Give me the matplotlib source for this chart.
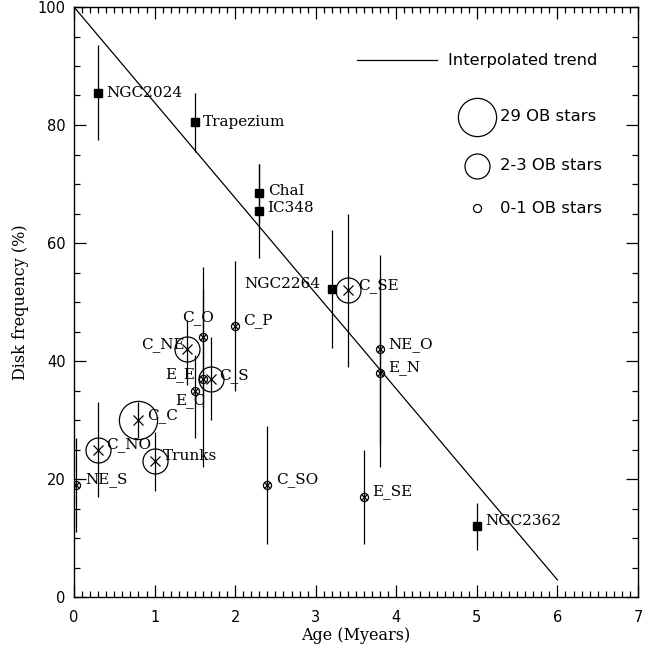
import matplotlib
matplotlib.use("Agg")
import matplotlib.pyplot as plt
from matplotlib.ticker import MultipleLocator

# ---------------- data ----------------
# clusters (filled squares)
cl_names = ['NGC2024', 'Trapezium', 'ChaI', 'IC348', 'NGC2264', 'NGC2362']
cl_age = [0.3, 1.5, 2.3, 2.3, 3.2, 5.0]
cl_freq = [85.5, 80.5, 68.4, 65.4, 52.2, 12.0]
cl_elo = [8.0, 5.0, 5.0, 8.0, 10.0, 4.0]
cl_ehi = [8.0, 5.0, 5.0, 8.0, 10.0, 4.0]

# regions with 29 OB stars
big_names = ['C_C']
big_age = [0.8]
big_freq = [30.0]
big_elo = [3.0]
big_ehi = [3.0]

# regions with 2-3 OB stars
med_names = ['C_NO', 'Trunks', 'C_NE', 'C_S', 'C_SE']
med_age = [0.3, 1.0, 1.4, 1.7, 3.4]
med_freq = [25.0, 23.0, 42.0, 37.0, 52.0]
med_elo = [8.0, 5.0, 6.0, 7.0, 13.0]
med_ehi = [8.0, 5.0, 5.0, 7.0, 13.0]

# regions with 0-1 OB stars
sml_names = ['NE_S', 'C_O', 'C_P', 'E_E', 'E_C', 'C_SO', 'NE_O', 'E_N', 'E_SE']
sml_age = [0.03, 1.6, 2.0, 1.6, 1.5, 2.4, 3.8, 3.8, 3.6]
sml_freq = [19.0, 44.0, 46.0, 37.0, 35.0, 19.0, 42.0, 38.0, 17.0]
sml_elo = [8.0, 12.0, 11.0, 15.0, 8.0, 10.0, 16.0, 16.0, 8.0]
sml_ehi = [8.0, 12.0, 11.0, 15.0, 6.0, 10.0, 16.0, 16.0, 8.0]

# interpolated trend
trend_age = [0.0, 6.0]
trend_freq = [100.0, 2.9]

legend_labels = ['Interpolated trend', '29 OB stars', '2-3 OB stars', '0-1 OB stars']

# ---------------- label offsets (points) ----------------
off_default = (6, 3.5, 'left', 'center')
label_off = {
    'NGC2024': (6, 0, 'left', 'center'),
    'Trapezium': (6, 0, 'left', 'center'),
    'ChaI': (6, 2, 'left', 'center'),
    'IC348': (6, 2.5, 'left', 'center'),
    'NGC2264': (-8, 3.5, 'right', 'center'),
    'C_NE': (-1.5, 3.5, 'right', 'center'),
    'E_E': (-6, 3, 'right', 'center'),
    'C_O': (-3.5, 14.5, 'center', 'center'),
    'E_C': (-3.5, -7.5, 'center', 'center'),
    'C_S': (6, 2.5, 'left', 'center'),
    'C_SE': (7, 3.5, 'left', 'center'),
}

serif = ['DejaVu Serif']
sans = ['DejaVu Sans']

fig = plt.figure(figsize=(6.55, 6.51), dpi=100)
ax = fig.add_axes([74 / 655, 1 - 597 / 651, 564 / 655, 590 / 651])

ax.plot(trend_age, trend_freq, color='black', lw=0.9)

eb_kw = dict(fmt='none', ecolor='black', elinewidth=0.9, capsize=0)
ax.errorbar(cl_age, cl_freq, yerr=[cl_elo, cl_ehi], **eb_kw)
ax.errorbar(big_age, big_freq, yerr=[big_elo, big_ehi], **eb_kw)
ax.errorbar(med_age, med_freq, yerr=[med_elo, med_ehi], **eb_kw)
ax.errorbar(sml_age, sml_freq, yerr=[sml_elo, sml_ehi], **eb_kw)

# markers
ax.plot(cl_age, cl_freq, ls='none', marker='s', ms=5.5, mfc='black', mec='black')
ax.plot(big_age, big_freq, ls='none', marker='o', ms=27.5, mfc='none', mec='black', mew=0.9)
ax.plot(med_age, med_freq, ls='none', marker='o', ms=18, mfc='none', mec='black', mew=0.9)
ax.plot(sml_age, sml_freq, ls='none', marker='o', ms=5.8, mfc='none', mec='black', mew=0.9)
ax.plot(med_age + big_age, med_freq + big_freq, ls='none', marker='x', ms=6.5,
        mec='black', mew=0.9)
ax.plot(sml_age, sml_freq, ls='none', marker='x', ms=4.5, mec='black', mew=0.9)

# labels
for names, ages, freqs in [(cl_names, cl_age, cl_freq), (big_names, big_age, big_freq),
                           (med_names, med_age, med_freq), (sml_names, sml_age, sml_freq)]:
    for n, a, f in zip(names, ages, freqs):
        dx, dy, ha, va = label_off.get(n, off_default)
        ax.annotate(n, (a, f), xytext=(dx, dy), textcoords='offset points',
                    ha=ha, va=va, fontsize=11, family=serif)

# hand-drawn legend
ax.plot([3.51, 4.5], [91.0, 91.0], color='black', lw=0.9)
ax.text(4.64, 91.0, legend_labels[0], ha='left', va='center', fontsize=11.8, family=sans)
ax.plot([5.0], [81.4], marker='o', ms=27.5, mfc='none', mec='black', mew=0.9)
ax.text(5.29, 81.4, legend_labels[1], ha='left', va='center', fontsize=11.8, family=sans)
ax.plot([5.0], [73.1], marker='o', ms=18, mfc='none', mec='black', mew=0.9)
ax.text(5.29, 73.1, legend_labels[2], ha='left', va='center', fontsize=11.8, family=sans)
ax.plot([5.0], [65.9], marker='o', ms=5.8, mfc='none', mec='black', mew=0.9)
ax.text(5.29, 65.9, legend_labels[3], ha='left', va='center', fontsize=11.8, family=sans)

ax.set_xlim(0, 7)
ax.set_ylim(0, 100)
ax.xaxis.set_major_locator(MultipleLocator(1))
ax.xaxis.set_minor_locator(MultipleLocator(0.1))
ax.yaxis.set_major_locator(MultipleLocator(20))
ax.yaxis.set_minor_locator(MultipleLocator(5))
ax.tick_params(which='both', direction='in', top=True, right=True, width=0.9, colors='black')
ax.tick_params(which='major', length=8.5)
ax.tick_params(which='minor', length=4.5)
ax.tick_params(axis='x', which='major', labelsize=10.5, pad=9)
ax.tick_params(axis='y', which='major', labelsize=10.5, pad=6)
for lab in ax.get_xticklabels() + ax.get_yticklabels():
    lab.set_family(sans)
for s in ax.spines.values():
    s.set_linewidth(1.0)

ax.set_xlabel('Age (Myears)', fontsize=11.5, family=serif, labelpad=2)
ax.set_ylabel('Disk frequency (%)', fontsize=11.5, family=serif, labelpad=6)

fig.savefig('out.png', dpi=100)
